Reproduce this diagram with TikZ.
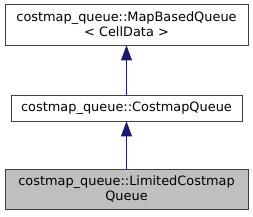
\documentclass[tikz,border=0pt]{standalone}
\usepackage{fontspec}
\setmainfont{DejaVu Sans}
\usetikzlibrary{arrows.meta}
\definecolor{edgeblue}{HTML}{191970}
\definecolor{boxline}{HTML}{404040}
\definecolor{curfill}{HTML}{BFBFBF}
\begin{document}
\begin{tikzpicture}[x=1pt,y=1pt,
  cls/.style={draw=boxline, line width=0.9pt, fill=white, align=center,
    inner sep=0pt, font=\fontsize{12.9}{15}\selectfont},
  cur/.style={cls, fill=curfill},
  inh/.style={draw=edgeblue, line width=0.9pt,
    -{Triangle[length=15pt,width=11pt,fill=edgeblue]}}]
\useasboundingbox (0,0) rectangle (253,216);
\node[cls, minimum width=243pt, minimum height=41pt] (base) at (126.5,191.5)
  {costmap\_queue::MapBasedQueue\\\textless{} CellData \textgreater};
\node[cls, minimum width=231pt, minimum height=26pt] (mid) at (126.5,108)
  {costmap\_queue::CostmapQueue};
\node[cur, minimum width=243pt, minimum height=40pt] (leaf) at (126.5,27)
  {costmap\_queue::LimitedCostmap\\Queue};
\draw[inh] (mid) -- (base);
\draw[inh] (leaf) -- (mid);
\end{tikzpicture}
\end{document}
